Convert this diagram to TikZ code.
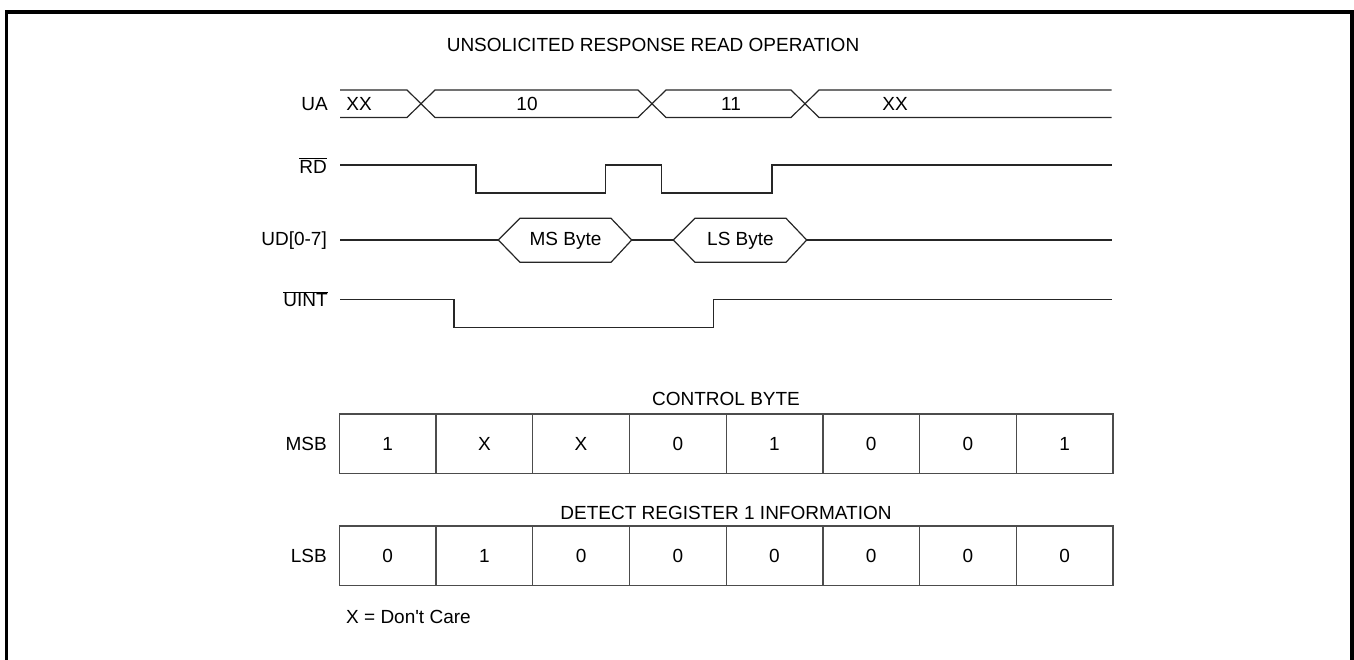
\documentclass[tikz,border=0pt]{standalone}
\usepackage{fontspec}
\setmainfont{Liberation Sans}
\begin{document}
\begin{tikzpicture}[x=1pt,y=-1pt,
  txt/.style={inner sep=0pt,font=\fontsize{19}{22}\selectfont},
  lbl/.style={txt,anchor=east},
  sig/.style={line width=1.2pt,black!85},
  tab/.style={line width=1.3pt,black!70},
  frame/.style={line width=3.6pt,black}]
\useasboundingbox (0,0) rectangle (1354,660);
% frame
\draw[frame] (6.5,662) -- (6.5,11.8) -- (1351.8,11.8) -- (1351.8,662);
% title
\node[txt] (title) at (653,45) {UNSOLICITED RESPONSE READ OPERATION};
% signal labels
\node[lbl] (lua) at (328,103.8) {UA};
\node[lbl] (lrd) at (327,165.5) {$\overline{\mbox{RD}}$};
\node[lbl] (lud) at (327,240.5) {UD[0-7]};
\node[lbl] (luint) at (328,299.5) {$\overline{\mbox{UINT}}$};
% UA bus
\draw[sig] (340,90) -- (407,90) -- (435,117.5) -- (638,117.5) -- (666,90) -- (791,90) -- (819,117.5) -- (1111.5,117.5);
\draw[sig] (340,117.5) -- (407,117.5) -- (435,90) -- (638,90) -- (666,117.5) -- (791,117.5) -- (819,90) -- (1111.5,90);
\node[txt] (ua1) at (359,104) {XX};
\node[txt] (ua2) at (527,104) {10};
\node[txt] (ua3) at (731,104) {11};
\node[txt] (ua4) at (895,104) {XX};
% RD
\draw[sig] (340,165) -- (476,165) -- (476,193) -- (605.5,193) -- (605.5,165) -- (661.5,165) -- (661.5,193) -- (772,193) -- (772,165) -- (1111.5,165);
% UD bus
\draw[sig] (340,240) -- (498.3,240);
\draw[sig] (498.3,240) -- (520,218.3) -- (611,218.3) -- (631.7,240) -- (611,262.3) -- (520,262.3) -- cycle;
\draw[sig] (631.7,240) -- (673.3,240);
\draw[sig] (673.3,240) -- (695,218.3) -- (786,218.3) -- (806.7,240) -- (786,262.3) -- (695,262.3) -- cycle;
\draw[sig] (806.7,240) -- (1111.5,240);
\node[txt] (ms) at (565.5,240.5) {MS Byte};
\node[txt] (ls) at (740.5,240.5) {LS Byte};
% UINT
\draw[sig] (340,299.3) -- (454,299.3) -- (454,327.3) -- (713.3,327.3) -- (713.3,299.3) -- (1111.5,299.3);
% tables
\node[txt] (cbt) at (726,398.5) {CONTROL BYTE};
\node[txt] (drt) at (726,512.8) {DETECT REGISTER 1 INFORMATION};
\node[lbl] (msb) at (327,444) {MSB};
\node[lbl] (lsb) at (327,556) {LSB};
\draw[tab] (339.3,414) rectangle (1113,473.5);
\draw[tab] (339.3,526) rectangle (1113,585.5);
\foreach \i in {1,...,7} {
  \draw[tab] ({339.3+96.71*\i},414) -- ({339.3+96.71*\i},473.5);
  \draw[tab] ({339.3+96.71*\i},526) -- ({339.3+96.71*\i},585.5);
}
\foreach [count=\i from 0] \v in {1,X,X,0,1,0,0,1} {
  \node[txt] (m\i) at ({339.3+96.71*(\i+0.5)},444) {\v};
}
\foreach [count=\i from 0] \v in {0,1,0,0,0,0,0,0} {
  \node[txt] (l\i) at ({339.3+96.71*(\i+0.5)},556) {\v};
}
\node[txt,anchor=west] (note) at (346,617) {X = Don\textquotesingle t Care};
\end{tikzpicture}
\end{document}
